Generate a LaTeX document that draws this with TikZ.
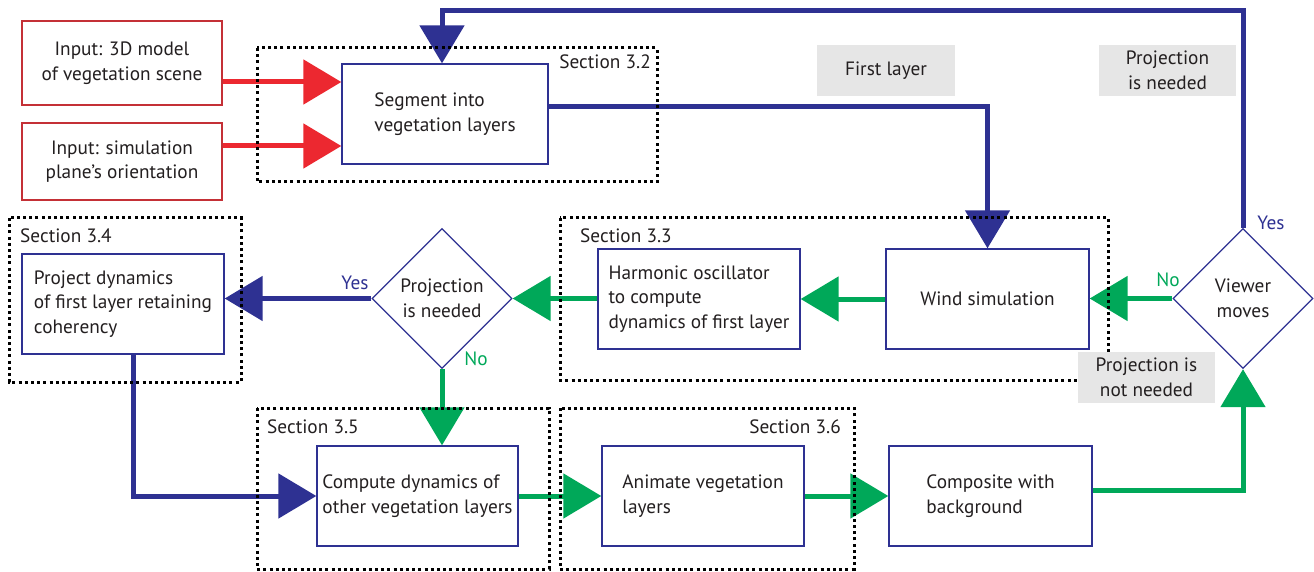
\documentclass[tikz,border=0pt]{standalone}
\usepackage{fontspec}
\setmainfont{PT Sans}
\usetikzlibrary{arrows.meta,shapes.geometric,calc}
\definecolor{navy}{RGB}{46,49,146}
\definecolor{navyhead}{RGB}{58,64,152}
\definecolor{flowgreen}{RGB}{0,168,89}
\definecolor{flowred}{RGB}{236,40,48}
\definecolor{boxred}{RGB}{196,48,54}
\definecolor{txt}{RGB}{35,31,32}
\definecolor{taggray}{RGB}{230,230,230}
\begin{document}
\begin{tikzpicture}[x=1pt,y=-1pt,
  font=\fontsize{19.3}{24.5}\selectfont,
  box/.style={draw=navy,line width=1.3pt,fill=white,text=txt,align=left,inner sep=0pt},
  inbox/.style={draw=boxred,line width=1.3pt,fill=white,text=txt,align=center,inner sep=0pt,minimum width=200pt},
  dec/.style={diamond,draw=navy,line width=1.3pt,fill=white,text=txt,align=center,inner sep=0pt,minimum width=140pt,minimum height=140pt},
  flow/.style={line width=5pt,-{Triangle[length=38pt,width=44pt]}},
  frame/.style={draw=black,line width=3pt,dash pattern=on 3pt off 3.2pt},
  tag/.style={fill=taggray,text=txt,align=center,inner sep=0pt,minimum width=137pt,minimum height=51pt},
  sec/.style={text=txt,inner sep=0pt},
  yes/.style={text=navy,inner sep=0pt},
  no/.style={text=flowgreen,inner sep=0pt}]
\useasboundingbox (0,0) rectangle (1314,572);

% nodes
\node[inbox,minimum height=84pt] (in1) at (122,63) {Input: 3D model\\of vegetation scene};
\node[inbox,minimum height=77pt] (in2) at (122,161.5) {Input: simulation\\plane’s orientation};
\node[box,minimum width=206pt,minimum height=100pt] (seg) at (445,114) {Segment into\\vegetation layers};
\node[box,minimum width=203pt,minimum height=100pt,align=center] (wind) at (987.5,299) {Wind simulation};
\node[box,minimum width=202pt,minimum height=100pt] (harm) at (699,299) {Harmonic oscillator\\to compute\\dynamics of first layer};
\node[box,minimum width=202pt,minimum height=100pt] (proj) at (123,304) {Project dynamics\\of first layer retaining\\coherency};
\node[box,minimum width=201pt,minimum height=100pt] (comp) at (417.5,496) {Compute dynamics of\\other vegetation layers};
\node[box,minimum width=202pt,minimum height=100pt] (anim) at (703,496) {Animate vegetation\\layers\phantom{g}};
\node[box,minimum width=203pt,minimum height=100pt] (compo) at (990.5,496) {Composite with\\background};
\node[dec] (d1) at (442,298.5) {Projection\\is needed};
\node[dec] (vm) at (1243,298.5) {Viewer\\moves};

% connectors
\coordinate (r1) at (0,82);
\coordinate (r2) at (0,146);
\coordinate (top) at (0,11);
\draw[flow,flowred] (in1.east |- r1) -- (seg.west |- r1);
\draw[flow,flowred] (in2.east |- r2) -- (seg.west |- r2);
\draw[flow,navy] (vm.north) -- (vm.north |- top) -- ([xshift=-3pt]seg.north |- top) -- ([xshift=-3pt]seg.north);
\draw[flow,navy] ([yshift=7pt]seg.east) -| (wind.north);
\draw[flow,flowgreen] (wind.west) -- (harm.east);
\draw[flow,flowgreen] (harm.west |- d1.east) -- (d1.east);
\draw[flow,navy] (d1.west) -- (proj.east |- d1.west);
\draw[flow,flowgreen] (d1.south) -- (d1.south |- comp.north);
\draw[flow,navy] ([xshift=10pt]proj.south) |- (comp.west);
\draw[flow,flowgreen] (comp.east) -- (anim.west);
\draw[flow,flowgreen] (anim.east) -- (compo.west);
\draw[flow,flowgreen] ([yshift=6pt]compo.east) -| (vm.south);
\draw[flow,flowgreen] (vm.west) -- (wind.east |- vm.west);

% branch labels
\node[yes] (y1) at (355,283) {Yes};
\node[no] (n1) at (476,359) {No};
\node[yes] (y2) at (1271,223) {Yes};
\node[no] (n2) at (1168,280) {No};

% section frames
\draw[frame] (257,48) rectangle (657,182);
\draw[frame] (9,218) rectangle (241,382);
\draw[frame] (560,218) rectangle (1108,380);
\draw[frame] (257,408) rectangle (549,569);
\draw[frame] (560,408) rectangle (854,569);
\node[sec,anchor=east] (s32) at (651,62) {Section 3.2};
\node[sec,anchor=west] (s34) at (20,236) {Section 3.4};
\node[sec,anchor=west] (s33) at (580,236) {Section 3.3};
\node[sec,anchor=west] (s35) at (267,427) {Section 3.5};
\node[sec,anchor=east] (s36) at (841,427) {Section 3.6};

% gray tags
\node[tag,minimum width=138pt] (t1) at (886,70.5) {First layer};
\node[tag] (t2) at (1167.5,70.5) {Projection\\is needed};
\node[tag] (t3) at (1146.5,377.5) {Projection is\\not needed};
\end{tikzpicture}
\end{document}
